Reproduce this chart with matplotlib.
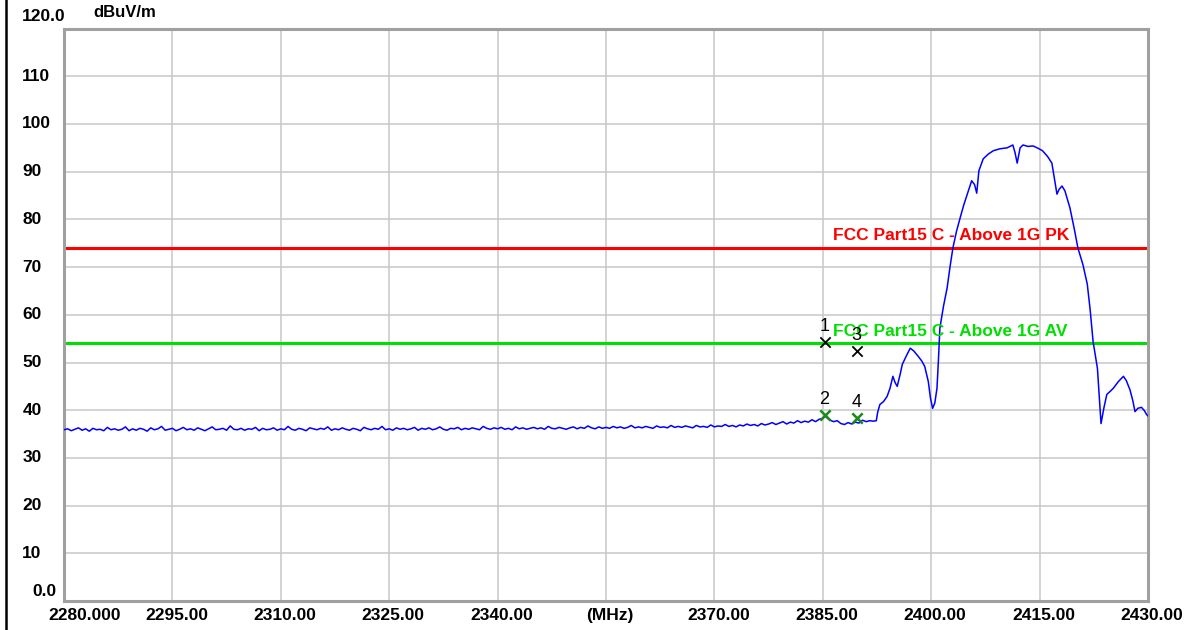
import numpy as np
import matplotlib
matplotlib.use("Agg")
import matplotlib.pyplot as plt
from matplotlib.transforms import ScaledTranslation
from matplotlib.lines import Line2D

# noise floor, 0.5 MHz steps from 2280.0 to 2384.5 MHz (dBuV/m)
floor_start = 2280.0
floor_step = 0.5
floor_level = [
    35.9, 36.1, 35.7, 36.0, 36.3, 35.8, 36.1, 35.6, 36.2, 35.9,
    36.0, 35.7, 36.4, 35.9, 36.1, 35.8, 36.0, 36.5, 35.7, 36.1,
    35.8, 36.2, 36.0, 35.6, 36.3, 35.9, 36.1, 36.6, 35.8, 36.0,
    36.2, 35.7, 36.0, 36.4, 35.9, 36.1, 35.8, 36.3, 36.0, 35.7,
    36.1, 36.5, 35.9, 36.0, 36.2, 35.8, 36.7, 36.0, 35.9, 36.2,
    35.8, 36.1, 36.0, 36.4, 35.7, 36.2, 35.9, 36.0, 36.3, 35.8,
    36.1, 35.9, 36.6, 36.0, 35.8, 36.2, 36.0, 35.7, 36.3, 36.1,
    35.9, 36.2, 36.0, 36.5, 35.8, 36.1, 35.9, 36.3, 36.0, 35.8,
    36.2, 36.0, 35.7, 36.4, 36.1, 35.9, 36.2, 36.0, 36.6, 35.9,
    36.1, 35.8, 36.3, 36.0, 36.2, 35.9, 36.1, 36.4, 35.8, 36.2,
    36.0, 36.3, 35.9, 36.1, 36.5, 36.0, 35.8, 36.2, 36.1, 36.4,
    35.9, 36.2, 36.0, 36.3, 36.1, 35.9, 36.6, 36.2, 36.0, 36.3,
    36.1, 36.4, 36.0, 36.2, 35.9, 36.5, 36.1, 36.3, 36.0, 36.2,
    36.4, 36.1, 36.3, 36.0, 36.6, 36.2, 36.1, 36.4, 36.2, 36.0,
    36.3, 36.5, 36.1, 36.4, 36.2, 36.7, 36.3, 36.1, 36.5, 36.2,
    36.4, 36.2, 36.6, 36.3, 36.5, 36.2, 36.4, 36.8, 36.3, 36.5,
    36.3, 36.6, 36.4, 36.2, 36.7, 36.4, 36.5, 36.3, 36.8, 36.4,
    36.6, 36.4, 36.7, 36.5, 36.3, 36.8, 36.5, 36.6, 36.4, 36.9,
    36.5, 36.7, 36.6, 37.0, 36.6, 36.8, 36.5, 36.9, 36.7, 37.1,
    36.8, 37.0, 36.7, 37.2, 36.9, 37.1, 37.4, 37.0, 37.3, 37.6,
    37.1, 37.5, 37.3, 37.8, 37.4, 37.7, 37.5, 38.0, 37.6, 38.1,
]

# band edge and fundamental
band_freq = [
    2385.0, 2385.3, 2385.6, 2386.0, 2386.5, 2387.0, 2387.5, 2388.0, 2388.5, 2389.0,
    2389.5, 2390.0, 2390.5, 2391.0, 2391.5, 2392.0, 2392.4, 2392.6, 2392.9, 2393.4,
    2393.9, 2394.3, 2394.7, 2395.0, 2395.3, 2395.7, 2396.0, 2396.5, 2397.1, 2397.6,
    2398.2, 2398.7, 2399.1, 2399.6, 2399.9, 2400.2, 2400.5, 2400.8, 2401.0, 2401.2,
    2401.7, 2402.2, 2402.6, 2403.0, 2403.5, 2404.0, 2404.5, 2405.0, 2405.6, 2406.0,
    2406.3, 2406.6, 2407.2, 2407.9, 2408.6, 2409.5, 2410.5, 2411.3, 2411.6, 2411.9,
    2412.3, 2412.7, 2413.4, 2414.1, 2414.8, 2415.4, 2416.1, 2416.7, 2417.0, 2417.4,
    2417.7, 2418.1, 2418.5, 2419.2, 2419.8, 2420.3, 2421.0, 2421.6, 2422.0, 2422.4,
    2423.0, 2423.3, 2423.5, 2423.9, 2424.3, 2424.8, 2425.2, 2425.9, 2426.6, 2427.0,
    2427.5, 2427.9, 2428.2, 2428.6, 2429.1, 2429.5, 2429.8, 2430.0,
]
band_level = [
    38.3, 38.8, 38.4, 37.9, 37.6, 37.8, 37.2, 37.0, 37.4, 37.1,
    37.5, 37.3, 37.9, 37.6, 37.8, 37.7, 37.8, 39.6, 41.2, 41.8,
    42.9, 44.6, 47.1, 45.8, 45.0, 47.5, 49.6, 51.2, 53.0, 52.4,
    51.3, 50.3, 49.2, 46.0, 42.5, 40.4, 41.5, 44.6, 50.5, 57.2,
    61.8, 65.6, 70.0, 74.0, 77.5, 80.3, 83.0, 85.3, 88.1, 87.3,
    85.5, 90.2, 92.7, 93.7, 94.4, 94.8, 95.0, 95.6, 94.0, 91.8,
    95.0, 95.6, 95.3, 95.4, 94.9, 94.4, 93.2, 91.8, 89.0, 85.3,
    86.3, 87.0, 86.0, 82.4, 78.0, 74.0, 70.5, 66.4, 61.0, 54.4,
    48.8, 42.0, 37.2, 40.5, 43.3, 44.0, 44.6, 46.0, 47.1, 46.2,
    44.3, 42.0, 39.7, 40.4, 40.6, 39.9, 39.1, 38.8,
]

limit_pk = 74.0
limit_av = 54.0

# markers: PK 1,3 and AV 2,4
pk_freq = [2385.3, 2389.8]
pk_level = [54.3, 52.4]
pk_names = ["1", "3"]
av_freq = [2385.3, 2389.8]
av_level = [39.0, 38.4]
av_names = ["2", "4"]

x_ticks = list(range(2280, 2431, 15))
x_labels = ["2280.000", "2295.00", "2310.00", "2325.00", "2340.00", "(MHz)",
            "2370.00", "2385.00", "2400.00", "2415.00", "2430.00"]
y_ticks = list(range(0, 121, 10))
y_labels = ["0.0", "10", "20", "30", "40", "50", "60", "70", "80", "90",
            "100", "110", "120.0"]

floor_freq = floor_start + floor_step * np.arange(len(floor_level))
freq = np.concatenate([floor_freq, band_freq])
level = np.concatenate([floor_level, band_level])

plt.rcParams['font.family'] = ['Liberation Sans', 'DejaVu Sans']

fig = plt.figure(figsize=(12.04, 6.3), dpi=100)
ax = fig.add_axes([64 / 1204, 29 / 630, 1084 / 1204, 572.4 / 630])

ax.plot(freq, level, color="#0000ff", lw=1.1, zorder=3)
ax.axhline(limit_pk, color="#ff0000", lw=2.2, zorder=2)
ax.axhline(limit_av, color="#00e000", lw=2.2, zorder=2)
ax.text(2386.4, limit_pk + 2.7, "FCC Part15 C - Above 1G PK", color="#ff0000",
        fontsize=12.5, fontweight="bold", va="center", ha="left", zorder=4)
ax.text(2386.4, limit_av + 2.4, "FCC Part15 C - Above 1G AV", color="#00e000",
        fontsize=12.5, fontweight="bold", va="center", ha="left", zorder=4)

ax.scatter(pk_freq, pk_level, marker="x", s=55, color="black", lw=1.3, zorder=5)
ax.scatter(av_freq, av_level, marker="x", s=55, color="#1a8a1a", lw=1.8, zorder=5)
for f, v, n in zip(pk_freq + av_freq, pk_level + av_level, pk_names + av_names):
    ax.annotate(n, (f, v), xytext=(-0.5, 11), textcoords="offset points",
                ha="center", va="center", fontsize=13, color="black", zorder=6)

ax.set_xlim(2280, 2430)
ax.set_ylim(0, 120)
ax.set_xticks(x_ticks)
ax.set_xticklabels(x_labels)
ax.set_yticks(y_ticks)
ax.set_yticklabels(y_labels)
ax.grid(True, color="#c8c8c8", lw=1.1)
ax.set_axisbelow(True)
ax.tick_params(length=0, labelsize=12.5)
ax.tick_params(axis="y", pad=30)
ax.tick_params(axis="x", pad=5)
for lab in ax.get_yticklabels():
    lab.set_fontweight("bold")
    lab.set_ha("left")
for lab in ax.get_xticklabels():
    lab.set_fontweight("bold")

# shift a few labels the way the analyser software lays them out
px = 1 / 100
for i, lab in enumerate(ax.get_xticklabels()):
    dx = 21 * px if i == 0 else 4 * px
    lab.set_transform(lab.get_transform() + ScaledTranslation(dx, 0, fig.dpi_scale_trans))
ylabs = ax.get_yticklabels()
ylabs[0].set_transform(ylabs[0].get_transform() + ScaledTranslation(10 * px, 11 * px, fig.dpi_scale_trans))
ylabs[-1].set_transform(ylabs[-1].get_transform() + ScaledTranslation(0, 14 * px, fig.dpi_scale_trans))
for lab in ylabs[1:-1]:
    lab.set_transform(lab.get_transform() + ScaledTranslation(0, 1.5 * px, fig.dpi_scale_trans))

ax.text(0.027, 1.028, "dBuV/m", transform=ax.transAxes, fontsize=12,
        fontweight="bold", ha="left", va="center")

for sp in ax.spines.values():
    sp.set_color("#a0a0a0")
    sp.set_linewidth(2.2)

fig.add_artist(Line2D([6 / 1204, 6 / 1204], [0, 1], color="black", lw=1.8,
                      transform=fig.transFigure))

fig.savefig("out.png", dpi=100)
